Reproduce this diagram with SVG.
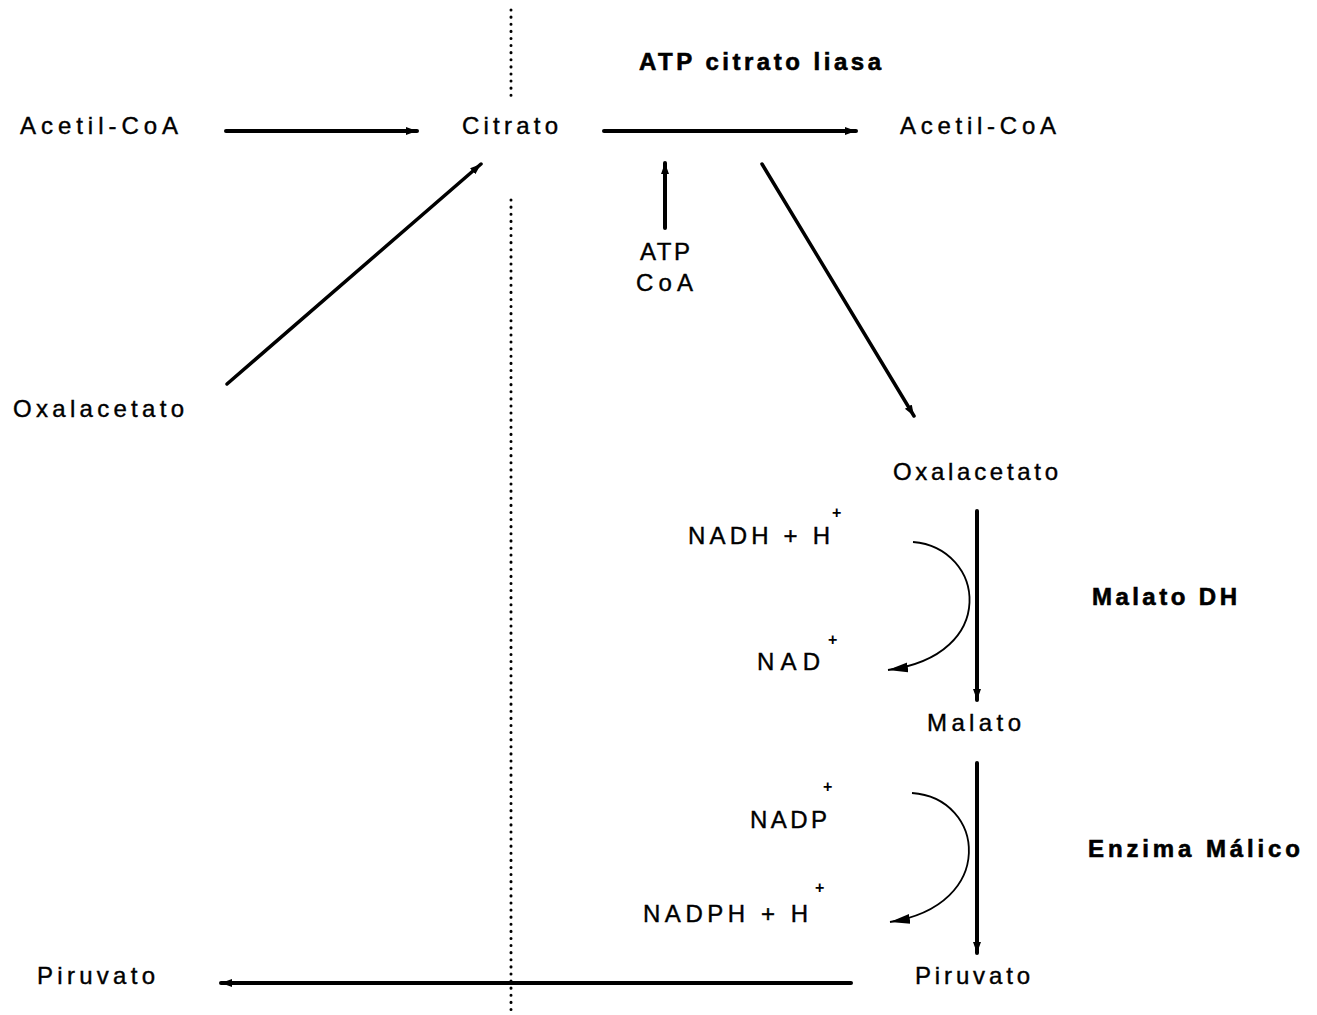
<svg xmlns="http://www.w3.org/2000/svg" width="1317" height="1015" viewBox="0 0 1317 1015">
<style>
.t{font-family:"Liberation Sans",Arial,sans-serif;font-size:24px;fill:#000;stroke:#000;stroke-width:0.4}
.b{font-family:"Liberation Sans",Arial,sans-serif;font-size:24px;font-weight:bold;fill:#000;stroke:#000;stroke-width:0.6}
.s{font-family:"Liberation Sans",Arial,sans-serif;font-size:16px;font-weight:bold;fill:#000}
.thick{stroke:#000;stroke-width:4;fill:none;stroke-linecap:round}
.med{stroke:#000;stroke-width:3.5;fill:none;stroke-linecap:round}
.thin{stroke:#000;stroke-width:1.8;fill:none}
.dot{stroke:#000;stroke-width:3;fill:none;stroke-linecap:round;stroke-dasharray:0.1 7}
</style>
<defs>
<marker id="ahs" markerUnits="userSpaceOnUse" markerWidth="14" markerHeight="10" refX="11" refY="4" orient="auto">
<path d="M0,0 L11,4 L0,8 Z" fill="#000"/>
</marker>
<marker id="ahc" markerUnits="userSpaceOnUse" markerWidth="22" markerHeight="14" refX="20" refY="6" orient="auto">
<path d="M0,1 L20,6 L0,11 Z" fill="#000"/>
</marker>
</defs>
<rect width="1317" height="1015" fill="#fff"/>
<g id="divider">
<line class="dot" x1="511" y1="10" x2="511" y2="97"/>
<line class="dot" x1="511" y1="200" x2="511" y2="1012"/>
</g>
<g id="connectors">
<line class="thick" x1="226" y1="131" x2="417" y2="131" marker-end="url(#ahs)"/>
<line class="med" x1="227" y1="384" x2="481" y2="164" marker-end="url(#ahs)"/>
<line class="thick" x1="604" y1="131" x2="856" y2="131" marker-end="url(#ahs)"/>
<line class="thick" x1="665" y1="228" x2="665" y2="163" marker-end="url(#ahs)"/>
<line class="med" x1="762" y1="164" x2="914" y2="416" marker-end="url(#ahs)"/>
<line class="thick" x1="977" y1="511" x2="977" y2="700" marker-end="url(#ahs)"/>
<line class="thick" x1="977" y1="763" x2="977" y2="953" marker-end="url(#ahs)"/>
<line class="thick" x1="851" y1="983" x2="221" y2="983" marker-end="url(#ahs)"/>
<path class="thin" d="M913,542 C985,548 1000,655 888,670" marker-end="url(#ahc)"/>
<path class="thin" d="M912,793 C985,798 998,905 890,922" marker-end="url(#ahc)"/>
</g>
<g id="acetilcoa-left"><text class="t" x="20" y="134" textLength="158" lengthAdjust="spacing">Acetil-CoA</text></g>
<g id="citrato"><text class="t" x="462" y="134" textLength="96" lengthAdjust="spacing">Citrato</text></g>
<g id="acetilcoa-right"><text class="t" x="900" y="134" textLength="156" lengthAdjust="spacing">Acetil-CoA</text></g>
<g id="atp-citrato-liasa"><text class="b" x="639" y="70" textLength="242" lengthAdjust="spacing">ATP citrato liasa</text></g>
<g id="atp-coa">
<text class="t" x="640" y="260" textLength="50" lengthAdjust="spacing">ATP</text>
<text class="t" x="636" y="291" textLength="57" lengthAdjust="spacing">CoA</text>
</g>
<g id="oxalacetato-left"><text class="t" x="13" y="417" textLength="171" lengthAdjust="spacing">Oxalacetato</text></g>
<g id="oxalacetato-right"><text class="t" x="893" y="480" textLength="165" lengthAdjust="spacing">Oxalacetato</text></g>
<g id="nadh">
<text class="t" x="688" y="544" textLength="142" lengthAdjust="spacing">NADH + H</text>
<text class="s" x="832" y="518">+</text>
</g>
<g id="malato-dh"><text class="b" x="1092" y="605" textLength="145" lengthAdjust="spacing">Malato DH</text></g>
<g id="nad">
<text class="t" x="757" y="670" textLength="63" lengthAdjust="spacing">NAD</text>
<text class="s" x="828" y="645">+</text>
</g>
<g id="malato"><text class="t" x="927" y="731" textLength="94" lengthAdjust="spacing">Malato</text></g>
<g id="nadp">
<text class="t" x="750" y="828" textLength="77" lengthAdjust="spacing">NADP</text>
<text class="s" x="823" y="792">+</text>
</g>
<g id="enzima-malico"><text class="b" x="1088" y="857" textLength="212" lengthAdjust="spacing">Enzima Málico</text></g>
<g id="nadph">
<text class="t" x="643" y="922" textLength="165" lengthAdjust="spacing">NADPH + H</text>
<text class="s" x="815" y="893">+</text>
</g>
<g id="piruvato-right"><text class="t" x="915" y="984" textLength="115" lengthAdjust="spacing">Piruvato</text></g>
<g id="piruvato-left"><text class="t" x="37" y="984" textLength="118" lengthAdjust="spacing">Piruvato</text></g>
</svg>
